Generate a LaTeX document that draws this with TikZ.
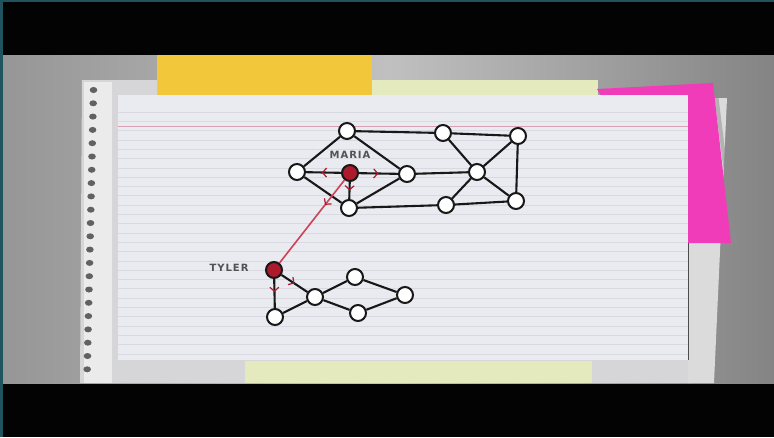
\documentclass[tikz,border=0pt]{standalone}
\usepackage{fontspec}
\newfontfamily\handfont[LetterSpace=10]{DejaVu Sans}
\usetikzlibrary{arrows.meta,automata,decorations.markings}

\definecolor{frameteal}{RGB}{31,84,95}
\definecolor{deskleft}{RGB}{150,150,150}
\definecolor{deskmid}{RGB}{192,192,192}
\definecolor{deskright}{RGB}{132,132,132}
\definecolor{sheetgrey}{RGB}{214,214,216}
\definecolor{cardwhite}{RGB}{234,234,241}
\definecolor{ruleline}{RGB}{217,217,226}
\definecolor{marginred}{RGB}{216,160,178}
\definecolor{noteyellow}{RGB}{243,199,58}
\definecolor{notepale}{RGB}{228,234,190}
\definecolor{notepink}{RGB}{241,60,186}
\definecolor{inkred}{RGB}{172,26,44}
\definecolor{linkred}{RGB}{206,66,88}
\definecolor{ink}{RGB}{24,24,24}

\tikzset{%
        redtip/.style={postaction={decorate},
            decoration={markings,
                mark=at position #1 with {\arrow[inkred, line width=1.2pt]{Straight Barb[length=4pt, width=9pt]}}}},
        name tag/.style={font=\handfont\bfseries\fontsize{10}{11}\selectfont, text=black!68}
}
\tikzstyle{every state}=[
    draw = ink,
    fill = white,
    line width = 2pt,
    minimum size = 16pt,
    inner sep = 0pt
]
\tikzstyle{every edge}=[
    draw = ink,
    line width = 2.1pt
]

\begin{document}
\begin{tikzpicture}[x=1pt, y=-1pt]
    \useasboundingbox (0,0) rectangle (774,437);
    % frame and letterbox bars
    \fill[frameteal] (0,0) rectangle (774,437);
    \fill[black!99] (3,2) rectangle (774,437);
    \shade[left color=deskleft, right color=deskright, middle color=deskmid]
        (3,55) rectangle (774,383);
    % sticky notes at the top
    \fill[noteyellow] (157,55) rectangle (372,96);
    \fill[notepale] (372,80) rectangle (598,97);
    % torn notebook sheet with its holes
    \fill[sheetgrey] (82,80) -- (157,80) -- (157,96) -- (690,96) -- (690,383) -- (80,383) -- cycle;
    \fill[white!92!black] (84,82) rectangle (112,383);
    \foreach \k in {0,...,21}
        \fill[black!62] ({93.5-0.3*\k},{90+13.3*\k}) ellipse (3.8 and 3);
    % paper behind the right edge and the pink note
    \fill[black!14] (688,98) -- (727,98) -- (714,383) -- (688,383) -- cycle;
    \fill[black!45, opacity=0.5] (713,86) -- (733,244) -- (737,244) -- (717,86) -- cycle;
    \fill[notepink] (597,89) -- (713,83) -- (731,243) -- (688,243) -- cycle;
    % pale note under the card
    \fill[notepale] (245,361) rectangle (592,383);
    % the lined card
    \fill[cardwhite] (118,95) rectangle (688,360);
    \foreach \y in {112,121.3,...,358}
        \draw[ruleline, line width=0.6pt] (118,\y) -- (688,\y);
    \draw[marginred, line width=0.8pt] (118,126.5) -- (688,126.5);
    \draw[black!70, line width=1pt] (688,243) -- (688,360);

    % top group
    \node[state] (a) at (347,131) {};
    \node[state] (b) at (297,172) {};
    \node[state, fill=inkred] (maria) at (350,173) {};
    \node[state] (c) at (407,174) {};
    \node[state] (d) at (349,208) {};
    \node[state] (e) at (443,133) {};
    \node[state] (f) at (518,136) {};
    \node[state] (g) at (477,172) {};
    \node[state] (h) at (446,205) {};
    \node[state] (i) at (516,201) {};
    \node[name tag] (mariatag) at (350,155) {MARIA};

    % bottom group
    \node[state, fill=inkred] (tyler) at (274,270) {};
    \node[state] (j) at (275,317) {};
    \node[state] (k) at (315,297) {};
    \node[state] (l) at (355,277) {};
    \node[state] (m) at (358,313) {};
    \node[state] (n) at (405,295) {};
    \node[name tag] (tylertag) at (229,268) {TYLER};

    \path
    (a) edge (b)
    (a) edge (c)
    (a) edge (e)
    (b) edge (d)
    (c) edge (d)
    (maria) edge[redtip=0.55] (b)
    (maria) edge[redtip=0.5] (c)
    (maria) edge[redtip=0.5] (d)
    (c) edge (g)
    (e) edge (f)
    (e) edge (g)
    (f) edge (g)
    (f) edge (i)
    (g) edge (h)
    (g) edge (i)
    (d) edge (h)
    (h) edge (i)
    (tyler) edge[redtip=0.45] (j)
    (tyler) edge[redtip=0.5] (k)
    (j) edge (k)
    (k) edge (l)
    (k) edge (m)
    (l) edge (n)
    (m) edge (n)
    (maria) edge[draw=linkred, line width=1.6pt, redtip=0.3] (tyler)
    ;
\end{tikzpicture}
\end{document}
